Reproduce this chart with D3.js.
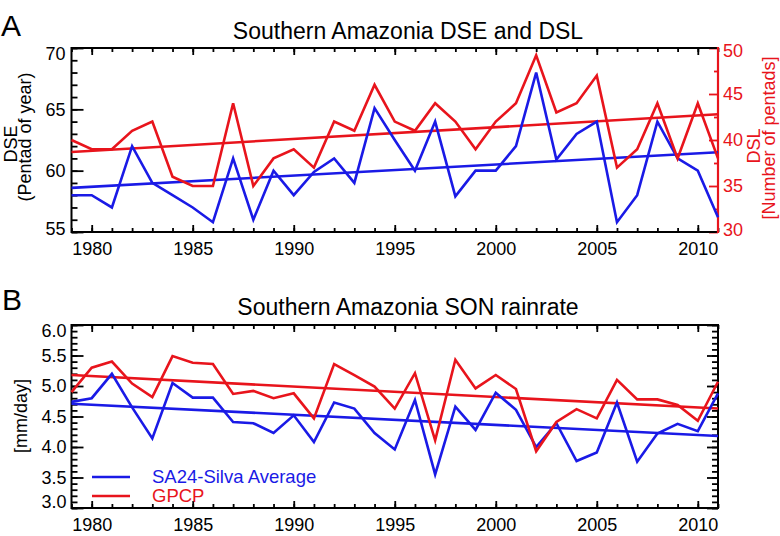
<!DOCTYPE html>
<html>
<head>
<meta charset="utf-8">
<script src="https://cdn.jsdelivr.net/npm/d3@7"></script>
<style>
  body { margin: 0; background: #fff; }
  svg text { font-family: "Liberation Sans", Arial, Helvetica, sans-serif; }
</style>
</head>
<body>
<svg id="chart" width="780" height="536"></svg>
<script>
// ---- data ----
var years = [1979, 1980, 1981, 1982, 1983, 1984, 1985, 1986, 1987, 1988, 1989,
             1990, 1991, 1992, 1993, 1994, 1995, 1996, 1997, 1998, 1999, 2000,
             2001, 2002, 2003, 2004, 2005, 2006, 2007, 2008, 2009, 2010, 2011];
var xTickLabels = [1980, 1985, 1990, 1995, 2000, 2005, 2010];

// panel A : dry season end (pentad of year) and dry season length (pentads)
var dse = [58, 58, 57, 62, 59, 58, 57, 55.8, 61, 56, 60, 58, 59.9, 61, 59, 65.1,
           62.5, 60, 64, 57.9, 60, 60, 62, 68, 60.9, 63, 64, 55.8, 58, 64, 61, 60, 56.2];
var dsl = [40, 39, 39, 41, 42, 36, 35, 35, 44, 35, 38, 39, 37, 42, 41, 46,
           42, 41, 44, 42, 39, 42, 44, 49.2, 43, 44, 47, 37, 39, 44, 38, 44, 38];
var dseTrend = [58.6, 61.5];
var dslTrend = [38.7, 42.8];
var dseTicks = [55, 60, 65, 70];
var dslTicks = [30, 35, 40, 45, 50];

// panel B : SON rain rate (mm/day)
var sa24 = [4.74, 4.80, 5.20, 4.65, 4.14, 5.05, 4.81, 4.81, 4.41, 4.39, 4.23, 4.52,
            4.08, 4.73, 4.63, 4.23, 3.96, 4.77, 3.55, 4.66, 4.28, 4.89, 4.61, 4.00,
            4.39, 3.77, 3.91, 4.73, 3.76, 4.22, 4.38, 4.26, 4.88];
var gpcp = [4.90, 5.30, 5.40, 5.04, 4.82, 5.49, 5.38, 5.36, 4.87, 4.92, 4.80, 4.88,
            4.47, 5.36, 5.18, 4.99, 4.63, 5.21, 4.11, 5.43, 4.96, 5.18, 4.95, 3.93,
            4.41, 4.62, 4.47, 5.10, 4.78, 4.78, 4.69, 4.43, 5.07];
var sa24Trend = [4.71, 4.18];
var gpcpTrend = [5.18, 4.63];
var rainTicks = [3.0, 3.5, 4.0, 4.5, 5.0, 5.5, 6.0];
var trendYears = [1979, 2011];

var blue = "#1a1ae6";
var red = "#e8141c";
var font = "'Liberation Sans', Arial, Helvetica, sans-serif";

var svg = d3.select("#chart");
var plotLeft = 71.5, plotRight = 718;
var xScale = d3.scaleLinear().domain([1979, 2011]).range([plotLeft, plotRight]);

// tidy up a d3 axis group the way IDL draws it
function styleAxis(g, color, size) {
  g.select(".domain").remove();
  g.attr("font-family", font).attr("font-size", size || 18).attr("color", color || "black");
  g.selectAll(".tick line").attr("stroke-width", 1.8);
}

function xAxes(top, bottom) {
  svg.append("g").attr("transform", `translate(0,${bottom})`)
    .call(d3.axisBottom(xScale).tickValues(years).tickSize(-4).tickFormat(""))
    .call(styleAxis);
  svg.append("g").attr("transform", `translate(0,${bottom})`)
    .call(d3.axisBottom(xScale).tickValues(xTickLabels).tickSize(-7).tickPadding(10).tickFormat(d3.format("d")))
    .call(styleAxis);
  svg.append("g").attr("transform", `translate(0,${top})`)
    .call(d3.axisTop(xScale).tickValues(years).tickSize(-4).tickFormat(""))
    .call(styleAxis);
  svg.append("g").attr("transform", `translate(0,${top})`)
    .call(d3.axisTop(xScale).tickValues(xTickLabels).tickSize(-7).tickFormat(""))
    .call(styleAxis);
}

// move end labels inward like the original
function nudgeEnds(g, lo, hi, up, down) {
  g.selectAll(".tick text").attr("transform", function(d) {
    if (d === hi) return `translate(0,${down})`;
    if (d === lo) return `translate(0,${-up})`;
    return null;
  });
}

function seriesLine(yScale) {
  return d3.line().x((d, i) => xScale(years[i])).y(d => yScale(d));
}
function trendLine(yScale) {
  return d3.line().x((d, i) => xScale(trendYears[i])).y(d => yScale(d));
}

// ================= Panel A =================
var aTop = 48, aBottom = 232;
var yDse = d3.scaleLinear().domain([55, 70]).range([aBottom, aTop]);
var yDsl = d3.scaleLinear().domain([30, 50]).range([aBottom, aTop]);

svg.append("text").attr("x", 1).attr("y", 36).attr("font-size", 30).text("A");
svg.append("text").attr("x", 408).attr("y", 39).attr("text-anchor", "middle")
  .attr("font-size", 23).text("Southern Amazonia DSE and DSL");

xAxes(aTop, aBottom);

// left axis (DSE)
svg.append("g").attr("transform", `translate(${plotLeft},0)`)
  .call(d3.axisLeft(yDse).tickValues(d3.range(55, 71, 1)).tickSize(-6).tickFormat(""))
  .call(styleAxis);
svg.append("g").attr("transform", `translate(${plotLeft},0)`)
  .call(d3.axisLeft(yDse).tickValues(dseTicks).tickSize(-12).tickPadding(6).tickFormat(d3.format("d")))
  .call(styleAxis)
  .call(g => nudgeEnds(g, 55, 70, 3, 6));

// right axis (DSL) in red
svg.append("g").attr("transform", `translate(${plotRight},0)`)
  .call(d3.axisRight(yDsl).tickValues([32.5, 37.5, 42.5, 47.5]).tickSize(-4).tickFormat(""))
  .call(g => styleAxis(g, red));
svg.append("g").attr("transform", `translate(${plotRight},0)`)
  .call(d3.axisRight(yDsl).tickValues(dslTicks).tickSize(-9).tickPadding(5).tickFormat(d3.format("d")))
  .call(g => styleAxis(g, red))
  .call(g => nudgeEnds(g, 30, 50, 2, 3));

svg.append("rect").attr("x", plotLeft).attr("y", aTop)
  .attr("width", plotRight - plotLeft).attr("height", aBottom - aTop)
  .attr("fill", "none").attr("stroke", "black").attr("stroke-width", 2);
svg.append("line").attr("x1", plotRight).attr("x2", plotRight)
  .attr("y1", aTop - 1).attr("y2", aBottom + 1)
  .attr("stroke", red).attr("stroke-width", 2.2);

// axis titles
svg.append("text").attr("transform", "translate(17,144) rotate(-90)")
  .attr("text-anchor", "middle").attr("font-size", 18).text("DSE");
svg.append("text").attr("transform", "translate(31,137) rotate(-90)")
  .attr("text-anchor", "middle").attr("font-size", 18).text("(Pentad of year)");
svg.append("text").attr("transform", "translate(760,146) rotate(-90)")
  .attr("text-anchor", "middle").attr("font-size", 18).attr("fill", red).text("DSL");
svg.append("text").attr("transform", "translate(775,138) rotate(-90)")
  .attr("text-anchor", "middle").attr("font-size", 18).attr("fill", red).text("[Number of pentads]");

// lines
var gA = svg.append("g").attr("fill", "none").attr("stroke-width", 2.6).attr("stroke-linejoin", "miter");
gA.append("path").datum(dslTrend).attr("stroke", red).attr("d", trendLine(yDsl));
gA.append("path").datum(dseTrend).attr("stroke", blue).attr("d", trendLine(yDse));
gA.append("path").datum(dse).attr("stroke", blue).attr("d", seriesLine(yDse));
gA.append("path").datum(dsl).attr("stroke", red).attr("d", seriesLine(yDsl));

// ================= Panel B =================
var bTop = 325, bBottom = 508;
var yRain = d3.scaleLinear().domain([3, 6]).range([bBottom, bTop]);

svg.append("text").attr("x", 2).attr("y", 310).attr("font-size", 30).text("B");
svg.append("text").attr("x", 408).attr("y", 315).attr("text-anchor", "middle")
  .attr("font-size", 23).text("Southern Amazonia SON rainrate");

xAxes(bTop, bBottom);

var minorRain = d3.range(30, 61, 1).map(v => v / 10);
svg.append("g").attr("transform", `translate(${plotLeft},0)`)
  .call(d3.axisLeft(yRain).tickValues(minorRain).tickSize(-6).tickFormat(""))
  .call(styleAxis);
svg.append("g").attr("transform", `translate(${plotLeft},0)`)
  .call(d3.axisLeft(yRain).tickValues(rainTicks).tickSize(-12).tickPadding(5).tickFormat(d3.format(".1f")))
  .call(styleAxis)
  .call(g => nudgeEnds(g, 3, 6, 6, 6));
svg.append("g").attr("transform", `translate(${plotRight},0)`)
  .call(d3.axisRight(yRain).tickValues(minorRain).tickSize(-6).tickFormat(""))
  .call(styleAxis);
svg.append("g").attr("transform", `translate(${plotRight},0)`)
  .call(d3.axisRight(yRain).tickValues(rainTicks).tickSize(-11).tickFormat(""))
  .call(styleAxis);

svg.append("rect").attr("x", plotLeft).attr("y", bTop)
  .attr("width", plotRight - plotLeft).attr("height", bBottom - bTop)
  .attr("fill", "none").attr("stroke", "black").attr("stroke-width", 2);

svg.append("text").attr("transform", "translate(27,416) rotate(-90)")
  .attr("text-anchor", "middle").attr("font-size", 18).text("[mm/day]");

var gB = svg.append("g").attr("fill", "none").attr("stroke-width", 2.6);
gB.append("path").datum(gpcpTrend).attr("stroke", red).attr("d", trendLine(yRain));
gB.append("path").datum(sa24Trend).attr("stroke", blue).attr("d", trendLine(yRain));
gB.append("path").datum(sa24).attr("stroke", blue).attr("d", seriesLine(yRain));
gB.append("path").datum(gpcp).attr("stroke", red).attr("d", seriesLine(yRain));

// legend
var legend = [{ name: "SA24-Silva Average", color: blue }, { name: "GPCP", color: red }];
var lg = svg.append("g").attr("transform", "translate(92,477)");
legend.forEach(function(item, i) {
  lg.append("line").attr("x1", 0).attr("x2", 38).attr("y1", i * 19).attr("y2", i * 19)
    .attr("stroke", item.color).attr("stroke-width", 2.6);
  lg.append("text").attr("x", 60).attr("y", i * 19 + 6).attr("font-size", 18.5)
    .attr("fill", item.color).text(item.name);
});
</script>
</body>
</html>
